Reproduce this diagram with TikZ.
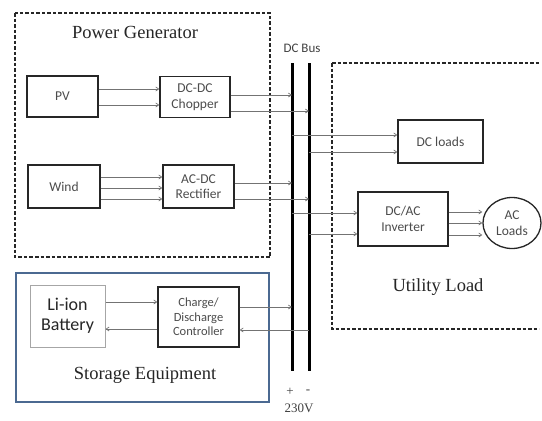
\documentclass[tikz,border=0pt]{standalone}
\usepackage{fontspec}
\setmainfont{Liberation Serif}
\newfontfamily\boxfont{Carlito}
\usetikzlibrary{arrows.meta,shapes.geometric}
\definecolor{steel}{RGB}{75,105,145}
\tikzset{
  blk/.style={draw=black!85,line width=1.3pt,fill=white,inner sep=1pt,align=center,font=\boxfont\fontsize{13.5}{15.5}\selectfont,text=black!70},
  conn/.style={draw=black!55,line width=0.7pt,-{Straight Barb[length=3pt,width=4pt]}},
  group/.style={draw=black!85,line width=1.1pt,dash pattern=on 3.5pt off 2pt},
  bus/.style={line width=3pt,black},
  title/.style={font=\fontsize{18.5}{20}\selectfont,text=black!85},
  small/.style={font=\fontsize{13}{15}\selectfont,text=black!75}
}
\begin{document}
\begin{tikzpicture}[x=1pt,y=-1pt]
\useasboundingbox (0,0) rectangle (542,421);
% groups
\draw[group] (15,13) rectangle (270,257);
\draw[group] (332,63) -- (539,63) (332,63) -- (332,329) -- (539,329);
\draw[draw=steel,line width=1.2pt] (16,273) rectangle (269,402);
\node[title] (tpg) at (135,32) {Power Generator};
\node[title] (tul) at (438,287) {Utility Load};
\node[title] (tse) at (145,375) {Storage Equipment};
% blocks
\node[blk,minimum width=71pt,minimum height=41pt] (pv) at (62.5,96.5) {PV};
\node[blk,minimum width=70pt,minimum height=41pt,inner sep=0pt] (chop) at (195,97) {DC-DC\\Chopper};
\node[blk,minimum width=72pt,minimum height=43pt] (wind) at (64,186.5) {Wind};
\node[blk,minimum width=71pt,minimum height=43pt,inner sep=0pt] (rect) at (198.5,186.5) {AC-DC\\Rectifier};
\node[blk,minimum width=85pt,minimum height=43pt] (dcl) at (440.5,141.5) {DC loads};
\node[blk,minimum width=90pt,minimum height=54pt] (inv) at (403,219) {DC/AC\\Inverter};
\node[blk,ellipse,minimum width=58pt,minimum height=51pt,inner sep=0pt] (acl) at (512,223) {AC\\Loads};
\node[blk,draw=black!35,line width=1pt,minimum width=75pt,minimum height=62pt,font=\boxfont\fontsize{18}{20}\selectfont,text=black!85] (bat) at (67.5,316) {Li-ion\\Battery};
\node[blk,minimum width=81pt,minimum height=60pt,inner sep=0pt,font=\boxfont\fontsize{12.5}{14.5}\selectfont] (ctl) at (198.5,317) {Charge/\\Discharge\\Controller};
% bus
\coordinate (bpt) at (292,63);
\coordinate (bpb) at (292,371);
\coordinate (bnt) at (309,63);
\coordinate (bnb) at (309,371);
\draw[bus] (bpt) -- (bpb);
\draw[bus] (bnt) -- (bnb);
\node[font=\boxfont\fontsize{13}{15}\selectfont,text=black!75] (lbus) at (302,48) {DC Bus};
\node[small] (lp) at (290,392) {+};
\node[small] (lm) at (308,392) {-};
\node[small] (lv) at (299,408) {230V};
% PV -> chopper
\draw[conn] (pv.east |- 0,89) -- (chop.west |- 0,89);
\draw[conn] (pv.east |- 0,105) -- (chop.west |- 0,105);
% chopper -> bus
\draw[conn] (chop.east |- 0,95) -- (bpt |- 0,95);
\draw[conn] (chop.east |- 0,111) -- (bnt |- 0,111);
% wind -> rectifier
\draw[conn] (wind.east |- 0,177) -- (rect.west |- 0,177);
\draw[conn] (wind.east |- 0,188) -- (rect.west |- 0,188);
\draw[conn] (wind.east |- 0,199) -- (rect.west |- 0,199);
% rectifier -> bus
\draw[conn] (rect.east |- 0,183) -- (bpt |- 0,183);
\draw[conn] (rect.east |- 0,199) -- (bnt |- 0,199);
% bus -> DC loads
\draw[conn] (bpt |- 0,135) -- (dcl.west |- 0,135);
\draw[conn] (bnt |- 0,152) -- (dcl.west |- 0,152);
% bus -> inverter
\draw[conn] (bpt |- 0,213) -- (inv.west |- 0,213);
\draw[conn] (bnt |- 0,234) -- (inv.west |- 0,234);
% inverter -> AC loads
\draw[conn] (inv.east |- 0,212) -- (acl.west |- 0,212);
\draw[conn] (inv.east |- 0,223) -- (acl.west |- 0,223);
\draw[conn] (inv.east |- 0,235) -- (acl.west |- 0,235);
% storage
\draw[conn] (bat.east |- 0,302) -- (ctl.west |- 0,302);
\draw[conn] (ctl.west |- 0,329) -- (bat.east |- 0,329);
\draw[conn] (ctl.east |- 0,307) -- (bpt |- 0,307);
\draw[conn] (bnt |- 0,330) -- (ctl.east |- 0,330);
\end{tikzpicture}
\end{document}
